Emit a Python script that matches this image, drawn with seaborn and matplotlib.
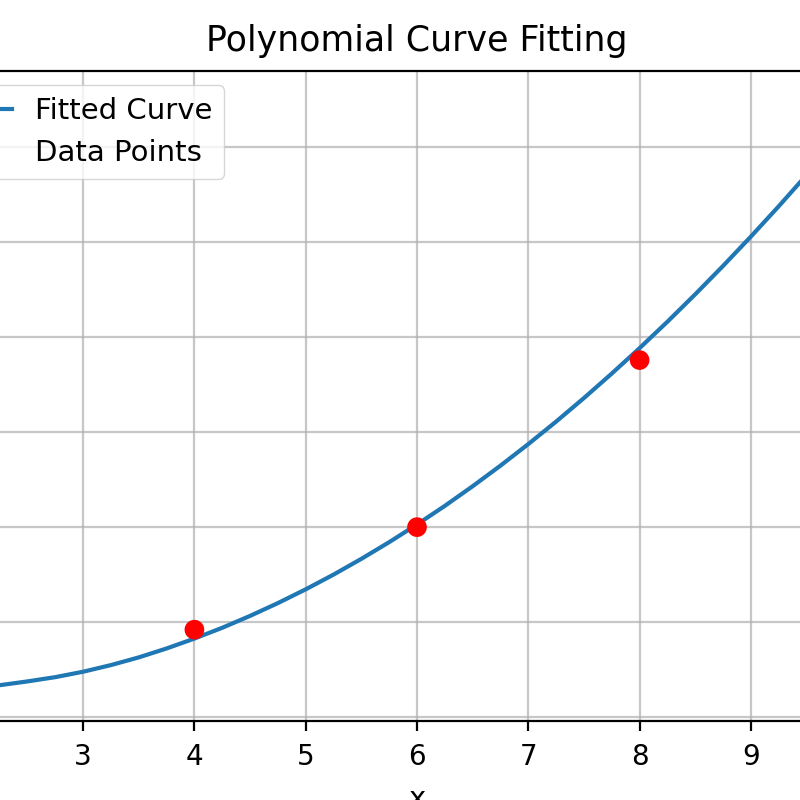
import matplotlib
matplotlib.use("Agg")
import matplotlib.pyplot as plt
import seaborn as sns
import pandas as pd

# Fitted curve values
curve_x = [1.6, 1.75, 2.0, 2.25, 2.5, 2.75, 3.0, 3.25, 3.5, 3.75, 4.0, 4.25, 4.5, 4.75,
           5.0, 5.25, 5.5, 5.75, 6.0, 6.25, 6.5, 6.75, 7.0, 7.25, 7.5, 7.75, 8.0,
           8.25, 8.5, 8.75, 9.0, 9.25, 9.5, 9.75, 10.0, 10.25, 10.4]
curve_y = [2.8, 2.9, 3.05, 3.35, 3.75, 4.2, 4.77, 5.47, 6.28, 7.22, 8.26, 9.40, 10.65, 12.0,
           13.45, 15.0, 16.66, 18.42, 20.28, 22.24, 24.31, 26.48, 28.75, 31.12, 33.6, 36.18, 38.86,
           41.64, 44.53, 47.52, 50.61, 53.8, 57.1, 60.5, 64.0, 67.6, 69.8]

# Data points
point_x = [4, 6, 8]
point_y = [9.2, 20.0, 37.6]

xticks = [3, 4, 5, 6, 7, 8, 9]
yticks = [0, 10, 20, 30, 40, 50, 60]

plt.rcParams.update({
    "font.family": ["DejaVu Sans"],
    "axes.linewidth": 1.6,
    "xtick.major.width": 1.6,
    "ytick.major.width": 1.6,
    "xtick.major.size": 7,
    "ytick.major.size": 7,
    "xtick.major.pad": 9,
    "xtick.labelsize": 20,
    "ytick.labelsize": 20,
})

curve_df = pd.DataFrame({"x": curve_x, "y": curve_y})
pts_df = pd.DataFrame({"x": point_x, "y": point_y})

fig = plt.figure(figsize=(8, 8), dpi=100)
ax = fig.add_axes([-0.0909, 0.09875, 1.2243, 0.8131])

sns.lineplot(data=curve_df, x="x", y="y", ax=ax, color="#1f77b4", linewidth=3.0,
             label="Fitted Curve", zorder=3)
sns.scatterplot(data=pts_df, x="x", y="y", ax=ax, color="red", s=200,
                edgecolor="none", label="Data Points", zorder=4)

ax.set_xlim(1.6, 10.4)
ax.set_ylim(-0.42, 68.1)
ax.set_xticks(xticks)
ax.set_yticks(yticks)
# y tick labels and y label lie outside the visible picture in the reference
ax.tick_params(axis="y", labelleft=False)
ax.grid(True, color="#b0b0b0", linewidth=1.6, alpha=0.7)
ax.set_axisbelow(True)
ax.set_title("Polynomial Curve Fitting", fontsize=25, pad=14)
ax.set_xlabel("x", fontsize=21, labelpad=10)
ax.set_ylabel("")
ax.legend(loc="upper left", fontsize=21)

fig.savefig("out.png", dpi=100)
